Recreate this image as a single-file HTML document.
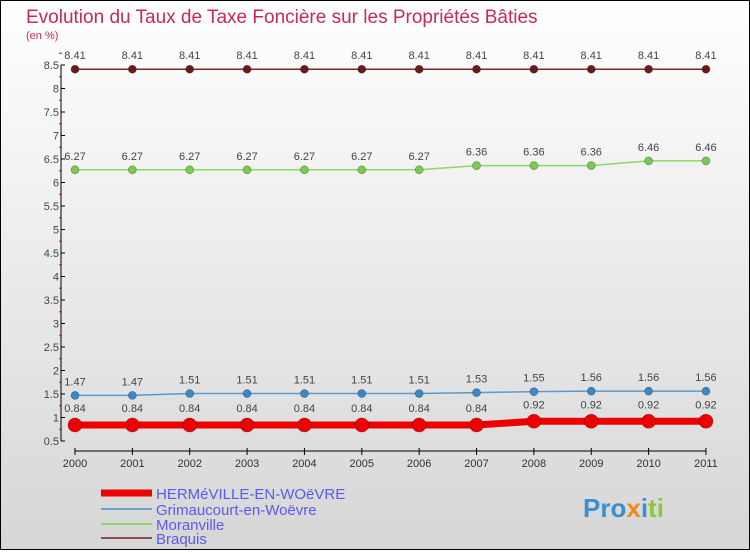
<!DOCTYPE html>
<html><head><meta charset="utf-8"><style>
body{margin:0;width:750px;height:550px;overflow:hidden;font-family:"Liberation Sans",sans-serif}
#c{position:absolute;left:0;top:0;width:748px;height:548px;border:1px solid #000;background:linear-gradient(#fff,#d6d6d6)}
</style></head><body>
<div id="c">
<svg id="s" width="748" height="548" xmlns="http://www.w3.org/2000/svg">
<text x="25" y="22" font-size="19" fill="#c8285a">Evolution du Taux de Taxe Foncière sur les Propriétés Bâties</text>
<text x="25" y="38" font-size="11" fill="#c8285a">(en %)</text>
<g id="ax"></g><g id="ser"></g>
<g>
<line x1="100" y1="492" x2="151" y2="492" stroke="#e00" stroke-width="7"/>
<text x="155" y="498" font-size="15" fill="#5a5aee">HERMéVILLE-EN-WOëVRE</text>
<line x1="100" y1="508" x2="151" y2="508" stroke="#6aa0cc" stroke-width="2"/>
<text x="155" y="514" font-size="15" fill="#5a5aee">Grimaucourt-en-Woëvre</text>
<line x1="100" y1="523" x2="151" y2="523" stroke="#8ed66a" stroke-width="2"/>
<text x="155" y="529" font-size="15" fill="#5a5aee">Moranville</text>
<line x1="100" y1="537" x2="151" y2="537" stroke="#8a5050" stroke-width="2"/>
<text x="155" y="543" font-size="15" fill="#5a5aee">Braquis</text>
</g>
<text x="582" y="516" font-size="26" font-weight="bold" fill="#3a8fd0">Pro<tspan fill="#f08a1c">x</tspan><tspan fill="#3a8fd0">i</tspan><tspan fill="#8cc83c">ti</tspan></text>
</svg></div>
<script>
const years=[2000,2001,2002,2003,2004,2005,2006,2007,2008,2009,2010,2011];
const hermeville=[0.84,0.84,0.84,0.84,0.84,0.84,0.84,0.84,0.92,0.92,0.92,0.92];
const grimaucourt=[1.47,1.47,1.51,1.51,1.51,1.51,1.51,1.53,1.55,1.56,1.56,1.56];
const moranville=[6.27,6.27,6.27,6.27,6.27,6.27,6.27,6.36,6.36,6.36,6.46,6.46];
const braquis=[8.41,8.41,8.41,8.41,8.41,8.41,8.41,8.41,8.41,8.41,8.41,8.41];
const yTicks=[0.5,1,1.5,2,2.5,3,3.5,4,4.5,5,5.5,6,6.5,7,7.5,8,8.5];
const NS="http://www.w3.org/2000/svg";
const X=i=>74+i*57.36, Y=v=>440-(v-0.5)*47;
function mk(t,a,p){const e=document.createElementNS(NS,t);for(const k in a)e.setAttribute(k,a[k]);p.appendChild(e);return e;}
const ax=document.getElementById('ax');
let l=mk('line',{x1:60,y1:Y(8.5),x2:60,y2:Y(0.5),stroke:'#000'},ax);


yTicks.forEach(v=>{
 const t=mk('line',{x1:60,y1:Y(v),x2:64,y2:Y(v),stroke:'#000'},ax);
 
 
 const m=mk('line',{x1:58,y1:Y(v+0.25),x2:61,y2:Y(v+0.25),stroke:'#e00'},ax);
 
 
 const tx=mk('text',{x:58,y:Y(v)+4,'font-size':11,fill:'#444','text-anchor':'end'},ax);tx.textContent=v;
 
 
});
l=mk('line',{x1:74,y1:450,x2:X(11),y2:450,stroke:'#000'},ax);


years.forEach((y,i)=>{
 const t=mk('line',{x1:X(i),y1:447,x2:X(i),y2:454,stroke:'#000'},ax);
 
 
 const tx=mk('text',{x:X(i),y:466,'font-size':11,fill:'#333','text-anchor':'middle'},ax);tx.textContent=y;
 
 
});
const ser=document.getElementById('ser');
[[braquis,'#7a2a2a','#6a1a1a',1.5,4,'braquis'],[moranville,'#8ed66a','#7acc50',1.5,4,'moranville'],[grimaucourt,'#5a9ad0','#3a88c8',1.5,4,'grimaucourt'],[hermeville,'#e00','#e00',7,7,'hermeville']].forEach(([d,c,fc,w,r,n])=>{
 const g=mk('g',{},ser);
 
 
 const p=mk('polyline',{points:d.map((v,i)=>X(i)+','+Y(v)).join(' '),fill:'none',stroke:c,'stroke-width':w},g);
 
 
 d.forEach((v,i)=>{
  const ci=mk('circle',{cx:X(i),cy:Y(v),r:r,fill:fc,stroke:'rgba(0,0,0,0.3)','stroke-width':0.8},g);
  
  
  const tx=mk('text',{x:X(i),y:Y(v)-(n==='hermeville'?13:10),'font-size':11,fill:'#444','text-anchor':'middle'},g);
  tx.textContent=v.toFixed(2);
  
  
 });
});
</script>
</body></html>
